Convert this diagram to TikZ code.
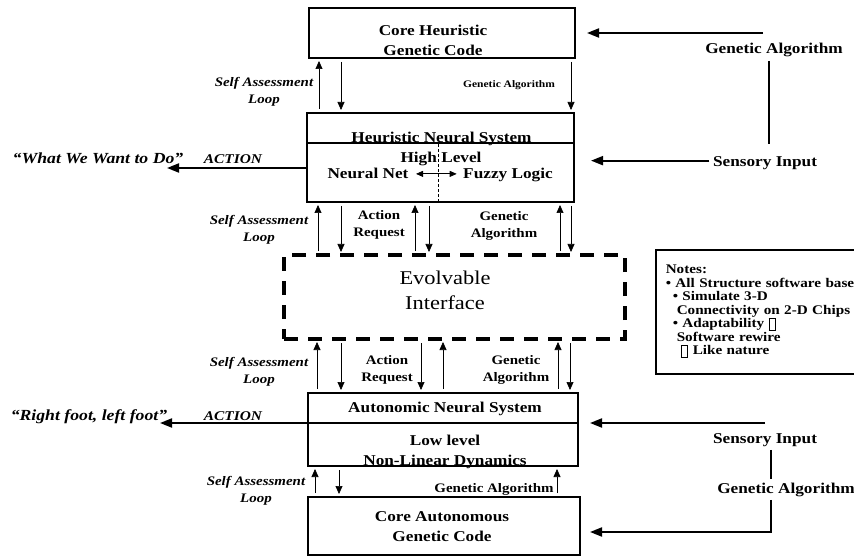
\documentclass[tikz,border=0pt]{standalone}
\usepackage{fontspec}
\setmainfont{Liberation Serif}[FakeStretch=1.15]
\usetikzlibrary{arrows.meta}
\newcommand{\missingglyph}{{\setlength{\fboxrule}{1.3pt}\setlength{\fboxsep}{0pt}\raisebox{-2pt}{\fbox{\rule{0pt}{11pt}\hspace{5pt}}}}}

\begin{document}
\begin{tikzpicture}[x=1pt,y=-1pt,
    sysbox/.style={draw,line width=2.5pt,outer sep=0pt,inner sep=0pt},
    boxtext/.style={font=\bfseries\fontsize{15}{20}\selectfont,align=center},
    lbl/.style={font=\bfseries\fontsize{13}{17}\selectfont,align=center},
    looplbl/.style={font=\bfseries\itshape\fontsize{13}{17}\selectfont,align=center},
    actlbl/.style={font=\bfseries\itshape\fontsize{13.4}{16}\selectfont,anchor=base},
    quotelbl/.style={font=\bfseries\itshape\fontsize{15.4}{18}\selectfont,anchor=base},
    arr/.style={-{Triangle[length=8pt,width=7pt]},line width=0.7pt,shorten <=4pt,shorten >=3pt},
    bigarr/.style={-{Triangle[length=12pt,width=9pt]},line width=2pt},
    divider/.style={line width=2pt}]

  \useasboundingbox (0,0) rectangle (854,556);

  % Systems
  \node[sysbox,minimum width=266pt,minimum height=50pt] (chgc) at (442,33) {};
  \node[sysbox,minimum width=267pt,minimum height=89pt] (hns) at (440.5,157.5) {};
  \node[sysbox,line width=3.5pt,dash pattern=on 14pt off 10pt,minimum width=341pt,minimum height=84pt] (evi) at (454.5,297) {};
  \node[sysbox,minimum width=270pt,minimum height=73pt] (ans) at (443,429.5) {};
  \node[sysbox,minimum width=272pt,minimum height=58pt] (cagc) at (444,526) {};

  \draw[divider] ([yshift=-30pt]hns.north west) -- ([yshift=-30pt]hns.north east);
  \coordinate (ansdiv) at ([yshift=-30pt]ans.north west);
  \draw[divider] (ansdiv) -- (ansdiv -| ans.east);
  \draw[densely dashed,line width=0.6pt] ([xshift=131pt]hns.south west) -- ([xshift=131pt,yshift=-30pt]hns.north west);

  % Texts in the systems
  \node[boxtext] (chgctext) at (433,40) {Core Heuristic\\Genetic Code};
  \node[boxtext,anchor=base] (hnstitle) at (441.5,143) {Heuristic Neural System};
  \node[boxtext,anchor=base] (high) at (441,163) {High Level};
  \node[boxtext,anchor=base] (nnet) at (368,179) {Neural Net};
  \node[boxtext,anchor=base] (fuzzy) at (508,179) {Fuzzy Logic};
  \node[font=\fontsize{19.5}{25}\selectfont,align=center] (evitext) at (445,290) {Evolvable\\Interface};
  \node[boxtext,anchor=base] (anstitle) at (445,412) {Autonomic Neural System};
  \node[boxtext] (anstext) at (445,451.5) {Low level\\Non-Linear Dynamics};
  \node[boxtext] (cagctext) at (442,527) {Core Autonomous\\Genetic Code};

  \draw[{Triangle[length=7pt,width=6pt]}-{Triangle[length=7pt,width=6pt]},line width=0.8pt,shorten <=4pt,shorten >=3pt] (nnet.east) -- (nnet.east -| fuzzy.west);

  % Labels between the systems
  \node[looplbl] (sa1) at (264,92) {Self Assessment\\Loop};
  \node[lbl,anchor=base,font=\bfseries\fontsize{10}{12}\selectfont] (ga1) at (509,88) {Genetic Algorithm};
  \node[looplbl] (sa2) at (259,230) {Self Assessment\\Loop};
  \node[lbl] (ar1) at (379,225) {Action\\Request};
  \node[lbl] (ga2) at (504,226) {Genetic\\Algorithm};
  \node[looplbl] (sa3) at (259,372) {Self Assessment\\Loop};
  \node[lbl] (ar2) at (387,370) {Action\\Request};
  \node[lbl] (ga3) at (516,370) {Genetic\\Algorithm};
  \node[looplbl] (sa4) at (256,491) {Self Assessment\\Loop};
  \node[lbl,anchor=base] (ga4) at (494,492) {Genetic Algorithm};

  % chgc / hns
  \draw[arr] ([xshift=12pt]hns.north west) -- ([xshift=12pt]hns.north west |- chgc.south);
  \draw[arr] ([xshift=34pt]hns.north west |- chgc.south) -- ([xshift=34pt]hns.north west);
  \draw[arr] ([xshift=264pt]hns.north west |- chgc.south) -- ([xshift=264pt]hns.north west);

  % hns / evi
  \draw[arr] ([xshift=11pt]hns.south west |- evi.north) -- ([xshift=11pt]hns.south west);
  \draw[arr] ([xshift=34pt]hns.south west) -- ([xshift=34pt]hns.south west |- evi.north);
  \draw[arr] ([xshift=108pt]hns.south west |- evi.north) -- ([xshift=108pt]hns.south west);
  \draw[arr] ([xshift=122pt]hns.south west) -- ([xshift=122pt]hns.south west |- evi.north);
  \draw[arr] ([xshift=253pt]hns.south west |- evi.north) -- ([xshift=253pt]hns.south west);
  \draw[arr] ([xshift=264pt]hns.south west) -- ([xshift=264pt]hns.south west |- evi.north);

  % evi / ans
  \draw[arr] ([xshift=9pt]ans.north west) -- ([xshift=9pt]ans.north west |- evi.south);
  \draw[arr] ([xshift=33pt]ans.north west |- evi.south) -- ([xshift=33pt]ans.north west);
  \draw[arr] ([xshift=113pt]ans.north west |- evi.south) -- ([xshift=113pt]ans.north west);
  \draw[arr] ([xshift=135pt]ans.north west) -- ([xshift=135pt]ans.north west |- evi.south);
  \draw[arr] ([xshift=250pt]ans.north west) -- ([xshift=250pt]ans.north west |- evi.south);
  \draw[arr] ([xshift=262pt]ans.north west |- evi.south) -- ([xshift=262pt]ans.north west);

  % ans / cagc
  \draw[arr] ([xshift=7pt]cagc.north west) -- ([xshift=7pt]cagc.north west |- ans.south);
  \draw[arr] ([xshift=31pt]cagc.north west |- ans.south) -- ([xshift=31pt]cagc.north west);
  \draw[arr] ([xshift=249pt]cagc.north west) -- ([xshift=249pt]cagc.north west |- ans.south);

  % Actions
  \node[actlbl] (act1) at (233,164) {ACTION};
  \node[quotelbl] (want) at (98,164) {“What We Want to Do”};
  \coordinate (wantend) at (167,168);
  \draw[bigarr] ([yshift=-55pt]hns.north west) -- (wantend);

  \node[actlbl] (act2) at (233,420) {ACTION};
  \node[quotelbl] (foot) at (89,420) {“Right foot, left foot”};
  \coordinate (footend) at (160,423);
  \draw[bigarr] (ansdiv) -- (footend);

  % Inputs
  \node[boxtext,anchor=base] (gatop) at (774,54) {Genetic Algorithm};
  \node[boxtext,anchor=base] (sitop) at (765,167) {Sensory Input};
  \draw[bigarr] ([xshift=-11pt]gatop.north |- chgc.east) -- ([xshift=12pt]chgc.east);
  \draw[line width=2pt] ([xshift=-5pt]gatop.south) -- ([xshift=-5pt,yshift=10pt]gatop.south |- sitop.north);
  \draw[bigarr] ([yshift=3pt]sitop.west) -- ([xshift=17pt,yshift=3pt]hns.east |- sitop.west);

  \node[boxtext,anchor=base] (sibot) at (765,443) {Sensory Input};
  \node[boxtext,anchor=base] (gabot) at (786,493) {Genetic Algorithm};
  \draw[bigarr] (sibot.north |- ansdiv) -- ([xshift=12pt]ans.east |- ansdiv);
  \draw[line width=2pt] ([xshift=6pt]sibot.south) -- ([xshift=6pt]sibot.south |- gabot.north);
  \draw[bigarr] ([xshift=-15pt]gabot.south) |- ([xshift=10pt,yshift=-6pt]cagc.east);

  % Notes
  \node[draw,line width=1.5pt,anchor=north west,minimum height=124pt,text width=212pt,
    inner xsep=10pt,inner ysep=0pt,align=left,font=\bfseries\fontsize{13.2}{13.5}\selectfont]
    (notes) at (655,249) {Notes:\\
    • All Structure software based\\
    \hspace*{7pt}• Simulate 3-D\\
    \hspace*{11pt}Connectivity on 2-D Chips\\
    \hspace*{7pt}• Adaptability \missingglyph\\
    \hspace*{11pt}Software rewire\\
    \hspace*{15pt}\missingglyph\ Like nature};
\end{tikzpicture}
\end{document}
